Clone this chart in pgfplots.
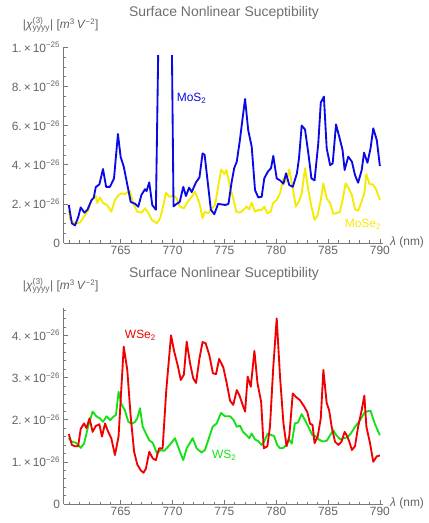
\documentclass[border=0pt]{standalone}
\usepackage{fontspec}
\setmainfont{Liberation Sans}
\usepackage{pgfplots}
\pgfplotsset{compat=1.18}
\definecolor{tickgray}{RGB}{100,100,100}
\definecolor{titlegray}{RGB}{110,110,110}
\definecolor{axisgray}{RGB}{120,120,120}
\definecolor{cblue}{RGB}{10,10,230}
\definecolor{cyellow}{RGB}{245,235,0}
\definecolor{cred}{RGB}{240,0,0}
\definecolor{cgreen}{RGB}{20,225,20}
\newcommand{\sci}[2]{#1\,×\,10\textsuperscript{#2}}
\newcommand{\tfont}{\fontsize{12}{12}\selectfont}
\newcommand{\ylab}{\textbar\textit{χ}$^{\hbox{\fontsize{8.5}{8.5}\selectfont(3)}}_{\hbox{\fontsize{8.5}{8.5}\selectfont yyyy}}$\textbar\ [\textit{m}\textsuperscript{3}\,\textit{V}\textsuperscript{−2}]}
\pgfplotsset{
  common/.style={
    scale only axis, width=319.4bp, height=195.7bp,
    xmin=759.5, xmax=790.3, ymin=0,
    axis x line=bottom, axis y line=left,
    axis line style={-, draw=axisgray, line width=0.6bp},
    tick align=inside, major tick length=4bp, minor tick length=2.5bp,
    every tick/.style={draw=axisgray, line width=0.5bp},
    xtick={765,770,775,780,785,790},
    xticklabels={765,770,775,780,785,790},
    minor xtick={760,761,...,790},
    ticklabel style={font=\tfont, text=tickgray},
    unbounded coords=jump,
    every axis plot/.append style={line width=1.85bp, line join=round},
  }
}
\begin{document}
\begin{tikzpicture}
\path[use as bounding box] (0,0) rectangle (429bp,523bp);
\begin{axis}[common, at={(63.6bp,280bp)}, anchor=south west,
  ymax=10,
  ytick={0,2,4,6,8,10},
  yticklabels={0,\sci{2.}{−26},\sci{4.}{−26},\sci{6.}{−26},\sci{8.}{−26},\sci{1.}{−25}},
  minor ytick={0.5,1,1.5,2.5,3,3.5,4.5,5,5.5,6.5,7,7.5,8.5,9,9.5},
]
% MoSe2 (units of 1e-26)
\addplot[cyellow] coordinates {
(760.0,1.69)(760.15,1.18)(760.6,1.01)(761.08,1.04)(761.47,1.35)(761.9,1.69)
(762.2,2.2)(762.6,2.4)(762.75,2.04)(763.0,2.33)(763.3,2.04)(763.7,1.94)
(764.1,1.6)(764.45,2.2)(764.8,2.45)(765.1,2.54)(765.4,2.5)(765.9,2.67)
(766.2,2.04)(766.6,1.6)(767.03,1.55)(767.35,1.77)(767.7,1.52)(768.0,1.18)
(768.5,1.01)(768.8,1.26)(769.1,1.86)(769.37,2.57)(769.7,2.36)(770.1,2.42)
(770.4,2.28)(770.7,1.86)(771.1,1.77)(771.5,2.13)(771.85,2.36)(772.17,2.62)
(772.6,2.04)(772.9,1.26)(773.1,1.6)(773.45,1.52)(773.8,1.77)(774.1,1.94)
(774.4,2.87)(774.7,3.76)(775.0,3.53)(775.2,3.73)(775.55,2.87)(775.9,2.2)
(776.15,1.6)(776.5,1.55)(776.9,1.72)(777.15,1.86)(777.4,1.72)(777.64,2.06)
(777.96,1.6)(778.27,1.69)(778.6,1.69)(778.85,1.86)(779.15,1.52)(779.47,1.6)
(779.7,2.04)(780.05,2.2)(780.37,2.54)(780.7,3.3)(780.95,3.13)(781.26,3.76)
(781.6,2.79)(781.9,1.86)(782.2,2.13)(782.46,2.54)(782.78,3.82)(783.1,2.7)
(783.4,1.86)(783.7,1.18)(784.0,1.43)(784.3,2.2)(784.55,3.05)(784.87,2.28)
(785.2,2.04)(785.5,1.5)(785.8,1.52)(786.15,1.6)(786.4,2.2)(786.7,3.05)
(787.0,2.79)(787.3,2.45)(787.6,1.72)(787.9,1.65)(788.25,2.13)(788.5,2.54)
(788.7,3.52)(789.0,3.0)(789.3,3.0)(789.6,2.79)(790.0,2.2)
};
% MoS2
\addplot[cblue] coordinates {
(760.0,1.94)(760.3,1.0)(760.6,0.9)(760.9,1.3)(761.15,1.82)(761.5,1.55)
(761.8,1.7)(762.2,2.2)(762.4,2.3)(762.6,2.85)(762.95,3.0)(763.3,3.78)
(763.6,2.87)(763.97,2.87)(764.36,3.3)(764.74,5.57)(765.0,4.4)(765.3,3.9)
(765.6,3.1)(765.97,2.1)(766.4,2.0)(766.7,1.85)(767.0,2.45)(767.35,2.75)
(767.5,2.65)(767.76,3.1)(768.05,1.94)(768.4,1.7)(768.62,9.6)
(769.3,nan)
(769.95,9.6)(770.1,1.87)(770.4,2.0)(770.7,2.1)(771.04,2.87)(771.3,2.4)
(771.6,2.83)(771.85,2.6)(772.27,3.1)(772.6,3.35)(772.9,4.58)(773.1,4.5)
(773.45,2.87)(773.7,1.7)(774.03,1.47)(774.4,2.0)(774.75,1.97)(775.1,1.94)
(775.4,2.0)(775.7,3.1)(775.95,3.82)(776.2,4.16)(776.5,5.26)(776.8,6.54)
(777.0,7.36)(777.3,5.77)(777.64,4.92)(777.96,2.7)(778.27,2.33)(778.6,2.36)
(778.85,3.3)(779.2,3.65)(779.5,3.82)(779.72,4.45)(780.05,3.3)(780.37,3.2)
(780.7,3.03)(780.95,3.56)(781.26,2.96)(781.6,2.87)(782.0,3.56)(782.2,4.33)
(782.46,6.0)(782.78,5.8)(783.1,4.58)(783.4,3.3)(783.7,3.2)(784.06,5.1)
(784.3,7.17)(784.6,7.48)(784.87,4.84)(785.2,3.98)(785.45,4.07)(785.77,6.06)
(786.08,5.43)(786.4,4.75)(786.6,3.73)(786.95,4.41)(787.3,4.16)(787.6,3.47)
(787.9,3.08)(788.25,3.73)(788.47,4.62)(788.8,4.1)(789.1,4.84)(789.36,5.86)
(789.7,5.26)(790.0,3.93)
};
\node[anchor=west, text=cblue, font=\tfont, inner sep=0pt] at (axis cs:770.4,7.4) {MoS\textsubscript{2}};
\node[anchor=west, text=cyellow, font=\tfont, inner sep=0pt] at (axis cs:786.6,0.97) {MoSe\textsubscript{2}};
\end{axis}

\begin{axis}[common, at={(63.6bp,19bp)}, anchor=south west,
  ymax=4.64,
  ytick={0,1,2,3,4},
  yticklabels={0,\sci{1.}{−26},\sci{2.}{−26},\sci{3.}{−26},\sci{4.}{−26}},
  minor ytick={0.2,0.4,0.6,0.8,1.2,1.4,1.6,1.8,2.2,2.4,2.6,2.8,3.2,3.4,3.6,3.8,4.2,4.4,4.6},
]
% WS2
\addplot[cgreen] coordinates {
(760.0,1.56)(760.3,1.48)(760.7,1.45)(761.15,1.33)(761.47,1.43)(761.9,1.87)
(762.3,2.19)(762.7,2.07)(763.0,2.03)(763.3,1.95)(763.65,2.08)(764.0,1.99)
(764.3,2.07)(764.55,2.11)(764.8,2.66)(765.1,2.35)(765.4,2.23)(765.74,1.95)
(766.06,1.9)(766.4,1.95)(766.6,2.03)(766.87,2.27)(767.13,1.83)(767.44,1.67)
(767.76,1.51)(768.1,1.45)(768.5,1.2)(768.86,1.28)(769.2,1.26)(769.5,1.34)
(769.83,1.43)(770.24,1.56)(770.66,1.28)(771.04,1.04)(771.37,1.32)(771.95,1.56)
(772.33,1.32)(772.8,1.22)(773.13,1.28)(773.55,1.59)(773.87,1.83)(774.26,1.91)
(774.68,2.16)(775.06,2.08)(775.55,2.08)(775.9,1.99)(776.2,1.83)(776.5,1.86)
(776.8,1.71)(777.15,1.63)(777.4,1.56)(777.64,1.67)(777.96,1.53)(778.27,1.49)
(778.6,1.4)(778.9,1.51)(779.15,1.66)(779.47,1.64)(779.8,1.61)(780.1,1.4)
(780.37,1.32)(780.7,1.33)(781.0,1.41)(781.26,1.53)(781.5,1.43)(781.8,1.91)
(782.1,1.93)(782.46,2.13)(782.78,1.99)(783.1,1.83)(783.5,1.63)(783.8,1.61)
(784.1,1.53)(784.5,1.48)(784.87,1.5)(785.2,1.63)(785.5,1.75)(785.8,1.63)
(786.2,1.53)(786.5,1.56)(786.86,1.58)(787.2,1.67)(787.6,1.83)(788.1,1.99)
(788.47,2.15)(788.8,2.2)(789.1,2.21)(789.5,1.91)(790.0,1.63)
};
% WSe2
\addplot[cred] coordinates {
(760.0,1.66)(760.3,1.4)(760.6,1.37)(760.9,1.37)(761.15,1.78)(761.47,1.91)
(761.7,1.8)(762.0,2.03)(762.3,1.71)(762.6,1.85)(762.95,1.89)(763.2,1.6)
(763.5,1.91)(763.8,1.71)(764.1,1.56)(764.45,1.16)(764.8,1.6)(765.3,3.73)
(765.64,3.18)(765.97,2.07)(766.3,1.24)(766.6,0.94)(766.93,0.8)(767.2,0.74)
(767.44,0.84)(767.76,1.24)(768.1,1.08)(768.4,1.04)(768.7,1.32)(769.05,1.32)
(769.4,2.7)(769.86,4.0)(770.17,3.61)(770.5,3.29)(770.8,2.94)(771.1,3.07)
(771.37,3.85)(771.7,3.33)(772.0,2.98)(772.27,2.87)(772.6,3.45)(772.9,3.84)
(773.2,3.81)(773.55,3.53)(773.9,3.1)(774.2,3.08)(774.5,3.44)(774.9,3.24)
(775.2,2.9)(775.55,2.45)(775.86,2.35)(776.2,2.7)(776.45,2.58)(776.77,2.35)
(777.0,2.19)(777.25,3.02)(777.55,2.78)(777.9,3.63)(778.2,2.86)(778.55,2.42)
(778.8,1.32)(779.15,1.37)(779.4,1.83)(779.72,3.25)(780.05,4.4)(780.37,3.02)
(780.7,1.91)(781.0,1.37)(781.26,1.6)(781.6,2.62)(781.9,2.54)(782.3,2.46)
(782.7,2.31)(783.0,2.18)(783.27,1.9)(783.5,1.88)(783.7,1.44)(784.0,1.6)
(784.3,2.03)(784.55,3.18)(784.87,2.39)(785.1,2.23)(785.35,1.83)(785.67,1.48)
(786.0,1.4)(786.3,1.48)(786.6,1.71)(786.86,1.6)(787.05,1.48)(787.3,1.28)
(787.6,1.37)(787.9,1.83)(788.25,2.23)(788.5,2.57)(788.7,1.83)(789.05,1.44)
(789.36,1.0)(789.7,1.13)(790.0,1.15)
};
\node[anchor=west, text=cred, font=\tfont, inner sep=0pt] at (axis cs:765.4,4.0) {WSe\textsubscript{2}};
\node[anchor=west, text=cgreen, font=\tfont, inner sep=0pt] at (axis cs:773.8,1.16) {WS\textsubscript{2}};
\end{axis}

\node[anchor=west, text=tickgray, font=\tfont, inner sep=0pt] at (390bp,281bp) {\textit{λ} (nm)};
\node[anchor=west, text=tickgray, font=\tfont, inner sep=0pt] at (390bp,19.5bp) {\textit{λ} (nm)};
\node[anchor=base, text=titlegray, font=\fontsize{14}{14}\selectfont] at (224bp,506.5bp) {Surface Nonlinear Suceptibility};
\node[anchor=base, text=titlegray, font=\fontsize{14}{14}\selectfont] at (224bp,245.5bp) {Surface Nonlinear Suceptibility};
\node[anchor=base west, text=tickgray, font=\tfont, inner sep=0pt] at (22.7bp,494bp) {\ylab};
\node[anchor=base west, text=tickgray, font=\tfont, inner sep=0pt] at (22.7bp,233bp) {\ylab};
\end{tikzpicture}
\end{document}
